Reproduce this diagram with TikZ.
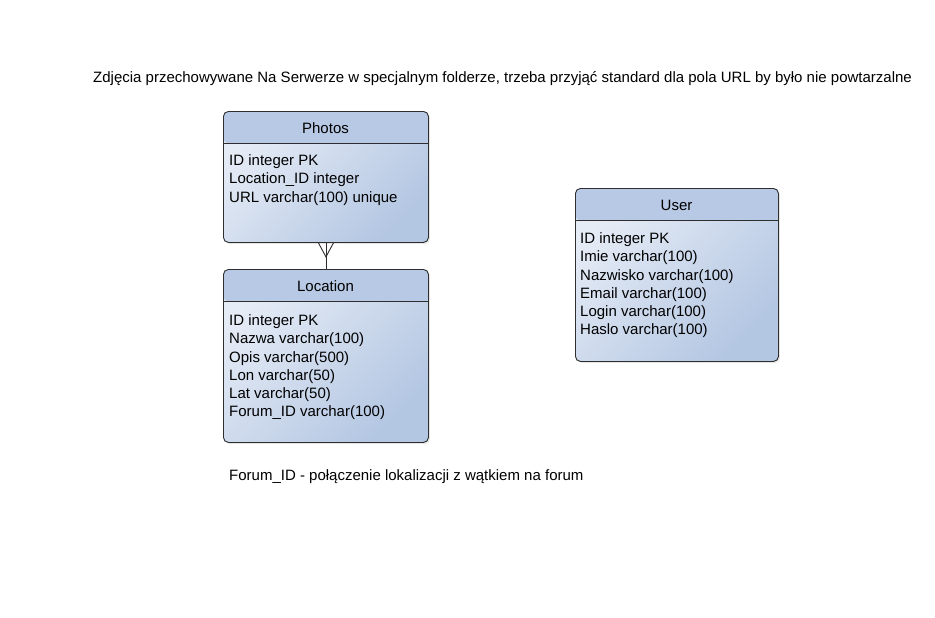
\documentclass[tikz,border=0pt]{standalone}
\usepackage{fontspec}
\setmainfont{Liberation Sans}
\usetikzlibrary{shadows,calc}
\definecolor{hdrcol}{HTML}{B7C9E4}
\definecolor{bodylight}{HTML}{E6ECF6}
\definecolor{bodydark}{HTML}{B3C6E2}
\definecolor{edgecol}{HTML}{2E2E2E}
\tikzset{
  tbl/.style={draw=edgecol, line width=0.9pt, rounded corners=5pt, anchor=north west,
    top color=bodylight, bottom color=bodydark, shading angle=45,
    drop shadow={opacity=0.2, shadow xshift=1.5pt, shadow yshift=-1.5pt},
    path picture={
      \fill[hdrcol] (path picture bounding box.north west) rectangle ([yshift=-32pt]path picture bounding box.north east);
      \draw[edgecol, line width=0.9pt] ([yshift=-32pt]path picture bounding box.north west) -- ([yshift=-32pt]path picture bounding box.north east);
    }},
  ttl/.style={font=\fontsize{15}{18}\selectfont, text=black, inner sep=0pt},
  rows/.style={font=\fontsize{15}{18.25}\selectfont, align=left, anchor=north west, inner sep=0pt, text=black},
  note/.style={font=\fontsize{15}{18}\selectfont, anchor=west, inner sep=0pt, text=black},
  rel/.style={draw=edgecol, line width=0.9pt}
}
\begin{document}
\begin{tikzpicture}[x=1pt,y=-1pt]
\useasboundingbox[fill=white] (0,0) rectangle (935,618);
% top note
\node[note] (n1) at (93,79) {Zdjęcia przechowywane Na Serwerze w specjalnym folderze, trzeba przyjąć standard dla pola URL by było nie powtarzalne};
% Photos
\node[tbl, minimum width=205pt, minimum height=131pt] (photos) at (223,111) {};
\node[ttl] (photosT) at (325.5,128) {Photos};
\node[rows] (photosR) at (229,154.5) {ID integer PK\\Location\_ID integer\\URL varchar(100) unique};
% Location
\node[tbl, minimum width=205pt, minimum height=173pt] (location) at (223,269) {};
\node[ttl] (locationT) at (325.5,286) {Location};
\node[rows] (locationR) at (229,314.5) {ID integer PK\\Nazwa varchar(100)\\Opis varchar(500)\\Lon varchar(50)\\Lat varchar(50)\\Forum\_ID varchar(100)};
% User
\node[tbl, minimum width=203pt, minimum height=173pt] (user) at (575,188) {};
\node[ttl] (userT) at (676.5,205) {User};
\node[rows] (userR) at (580,232.5) {ID integer PK\\Imie varchar(100)\\Nazwisko varchar(100)\\Email varchar(100)\\Login varchar(100)\\Haslo varchar(100)};
% bottom note
\node[note] (n2) at (229,477) {Forum\_ID - połączenie lokalizacji z wątkiem na forum};
% relation Photos (many) - Location
\coordinate (foot) at ($(photos.south)+(0,14)$);
\draw[rel] (photos.south) -- (location.north);
\draw[rel] ($(photos.south)+(-7.5,0)$) -- (foot) -- ($(photos.south)+(7.5,0)$);
\end{tikzpicture}
\end{document}
